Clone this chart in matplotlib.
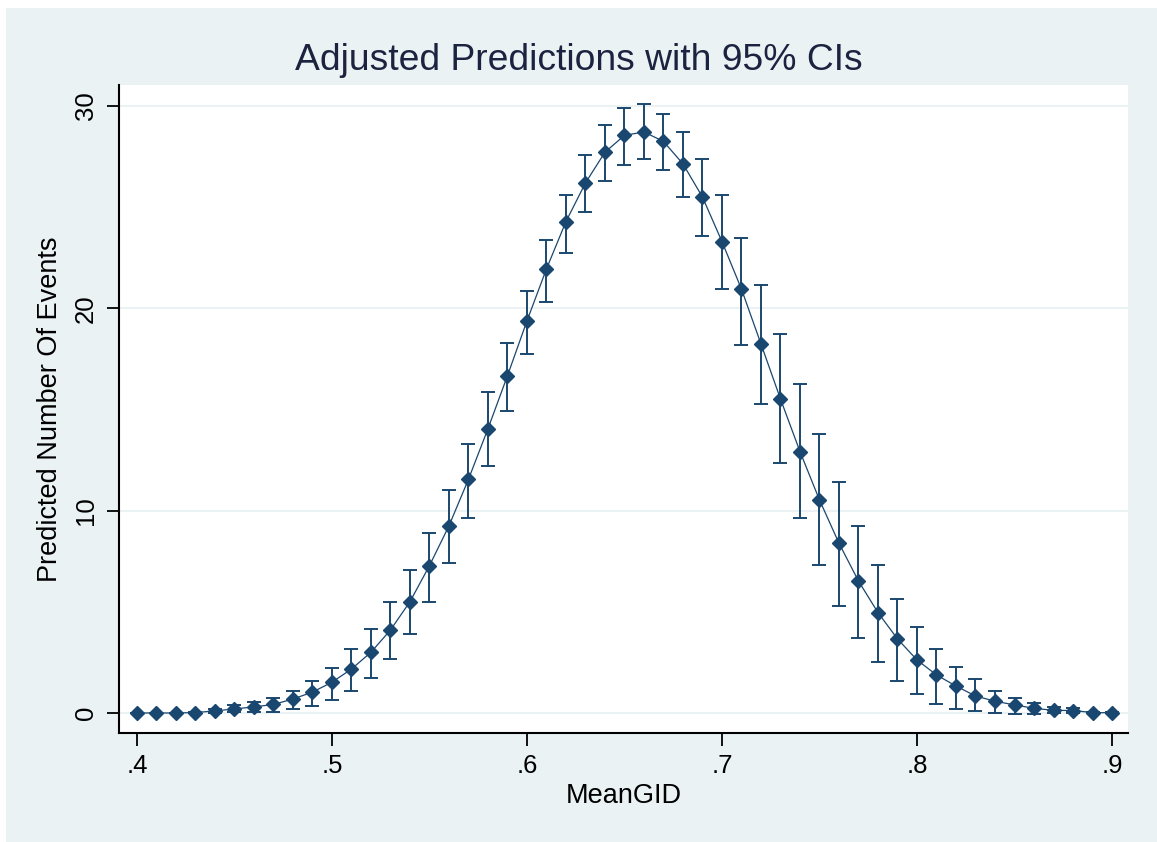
import matplotlib
matplotlib.use('Agg')
import matplotlib.pyplot as plt
from matplotlib.patches import Rectangle

# MeanGID grid and predicted counts with 95% CI bounds
mean_gid = [round(0.40 + 0.01 * i, 2) for i in range(51)]
predicted = [0.0, 0.0, 0.0, 0.02, 0.1, 0.2, 0.3, 0.42, 0.69, 1.03,
             1.52, 2.17, 3.0, 4.1, 5.5, 7.28, 9.25, 11.55, 14.05, 16.67,
             19.38, 21.95, 24.29, 26.2, 27.72, 28.55, 28.72, 28.25, 27.14, 25.5,
             23.3, 20.95, 18.24, 15.52, 12.92, 10.53, 8.39, 6.52, 4.96, 3.66,
             2.62, 1.88, 1.33, 0.84, 0.58, 0.4, 0.23, 0.13, 0.12, 0.02,
             0.01]
ci_low = [0.0, 0.0, 0.0, 0.0, 0.02, 0.05, 0.03, 0.06, 0.18, 0.36,
          0.64, 1.1, 1.75, 2.67, 3.89, 5.47, 7.4, 9.65, 12.2, 14.94,
          17.75, 20.33, 22.74, 24.78, 26.3, 27.1, 27.4, 26.84, 25.5, 23.6,
          20.97, 18.19, 15.26, 12.37, 9.65, 7.31, 5.29, 3.69, 2.5, 1.58,
          0.92, 0.44, 0.2, 0.1, 0.0, -0.06, -0.05, 0.0, 0.0, 0.0,
          0.0]
ci_high = [0.0, 0.0, 0.0, 0.05, 0.2, 0.38, 0.55, 0.75, 1.1, 1.58,
           2.2, 3.15, 4.15, 5.47, 7.07, 8.91, 11.02, 13.3, 15.85, 18.27,
           20.88, 23.38, 25.6, 27.57, 29.07, 29.9, 30.1, 29.6, 28.7, 27.37,
           25.6, 23.46, 21.16, 18.73, 16.25, 13.8, 11.4, 9.26, 7.31, 5.63,
           4.25, 3.15, 2.29, 1.66, 1.1, 0.73, 0.47, 0.28, 0.24, 0.06,
           0.03]
x_ticks = [0.4, 0.5, 0.6, 0.7, 0.8, 0.9]
x_ticklabels = ['.4', '.5', '.6', '.7', '.8', '.9']
y_ticks = [0, 10, 20, 30]

navy = '#1a476f'
bg = '#eaf2f3'
plt.rcParams['font.family'] = ['Liberation Sans', 'DejaVu Sans']

fig = plt.figure(figsize=(11.57, 8.42), dpi=100, facecolor='white')
# stata-like outer region, small white margin top/left
fig.patches.append(Rectangle((6 / 1157, 0), 1, 1 - 8 / 842, transform=fig.transFigure,
                             facecolor=bg, edgecolor='none', zorder=-10))

ax = fig.add_axes([119 / 1157, 1 - 733 / 842, (1128 - 119) / 1157, (733 - 85) / 842])
ax.set_facecolor('white')

err_lo = [p - l for p, l in zip(predicted, ci_low)]
err_hi = [h - p for p, h in zip(predicted, ci_high)]
ax.errorbar(mean_gid, predicted, yerr=[err_lo, err_hi], fmt='none', ecolor=navy,
            elinewidth=1.4, capsize=4.8, capthick=1.4, zorder=2)
ax.plot(mean_gid, predicted, color=navy, lw=0.9, marker='D', ms=6.8,
        markerfacecolor=navy, markeredgecolor=navy, zorder=3)

ax.set_xlim(0.3908, 0.9082)
ax.set_ylim(-0.99, 31.04)
ax.set_xticks(x_ticks)
ax.set_xticklabels(x_ticklabels)
ax.set_yticks(y_ticks)
ax.set_yticklabels([str(v) for v in y_ticks], rotation=90, va='center')
for v in y_ticks:
    ax.axhline(v, color=bg, lw=1.5, zorder=1)

for s in ['top', 'right']:
    ax.spines[s].set_visible(False)
for s in ['left', 'bottom']:
    ax.spines[s].set_linewidth(1.5)
    ax.spines[s].set_color('black')
ax.tick_params(axis='both', direction='out', length=9, width=1.3, labelsize=18.5,
               colors='black', pad=6)

ax.set_xlabel('MeanGID', fontsize=19.5, labelpad=4)
ax.set_ylabel('Predicted Number Of Events', fontsize=19.5, labelpad=8)
fig.text(579 / 1157, 1 - 60 / 842, 'Adjusted Predictions with 95% CIs', fontsize=26.8,
         ha='center', va='center', color='#1c2340')

fig.savefig('out.png', dpi=100, facecolor=fig.get_facecolor())
